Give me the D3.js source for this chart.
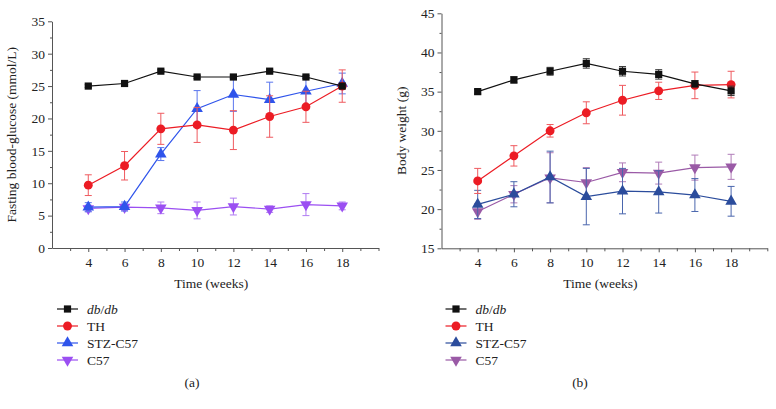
<!DOCTYPE html>
<html><head><meta charset="utf-8">
<script src="https://cdn.jsdelivr.net/npm/d3@7"></script>
<style>
body{margin:0;background:#fff;}
svg text{font-family:"Liberation Serif","DejaVu Serif",serif;}
</style></head>
<body><svg id="c" width="776" height="409"></svg>
<script>
const weeks = [4, 6, 8, 10, 12, 14, 16, 18];
const seriesNames = ["db/db", "TH", "STZ-C57", "C57"];

// (a) Fasting blood-glucose (mmol/L): mean and error
const glucoseDb = [25.0, 25.4, 27.3, 26.4, 26.4, 27.3, 26.4, 25.0];
const glucoseDbErr = [0.2, 0.2, 0.2, 0.2, 0.2, 0.2, 0.2, 0.2];
const glucoseTH = [9.7, 12.7, 18.4, 19.0, 18.2, 20.3, 21.8, 25.0];
const glucoseTHErr = [1.6, 2.2, 2.4, 2.7, 3.0, 3.2, 2.4, 2.5];
const glucoseSTZ = [6.3, 6.4, 14.5, 21.5, 23.7, 22.9, 24.2, 25.4];
const glucoseSTZErr = [0.7, 0.7, 1.0, 2.8, 2.6, 2.7, 2.1, 1.6];
const glucoseC57 = [6.1, 6.3, 6.2, 5.8, 6.4, 6.0, 6.7, 6.5];
const glucoseC57Err = [0.5, 0.5, 0.9, 1.3, 1.3, 0.5, 1.7, 0.6];

// (b) Body weight (g): mean and error
const weightDb = [35.0, 36.5, 37.6, 38.6, 37.6, 37.2, 36.0, 35.1];
const weightDbErr = [0.3, 0.4, 0.5, 0.6, 0.6, 0.6, 0.4, 0.6];
const weightTH = [23.6, 26.8, 30.0, 32.3, 33.9, 35.1, 35.8, 35.9];
const weightTHErr = [1.6, 1.3, 0.8, 1.4, 1.9, 1.1, 1.7, 1.7];
const weightSTZ = [20.6, 21.9, 24.1, 21.6, 22.3, 22.2, 21.8, 21.0];
const weightSTZErr = [1.8, 1.6, 3.3, 3.6, 2.9, 2.7, 2.1, 1.9];
const weightC57 = [19.7, 21.9, 24.0, 23.4, 24.7, 24.6, 25.3, 25.4];
const weightC57Err = [1.0, 1.1, 3.2, 1.9, 1.2, 1.4, 1.6, 1.6];

const yTicksA = [0, 5, 10, 15, 20, 25, 30, 35];
const yTicksB = [15, 20, 25, 30, 35, 40, 45];
const xTicks = [4, 6, 8, 10, 12, 14, 16, 18];

const svg = d3.select("#c");
const symbols = [d3.symbolSquare, d3.symbolCircle, d3.symbolTriangle, "down"];
const FS = "13.5px";

function marker(type, size) {
  if (type === "down") return d3.symbol(d3.symbolTriangle, size)();
  return d3.symbol(type, size)();
}
function msize(t) { return t === d3.symbolCircle ? 62 : (t === d3.symbolSquare ? 52 : 58); }

function panel(cfg) {
  const g = svg.append("g");
  const x = d3.scaleLinear().domain([2, 20]).range([cfg.x0, cfg.x1]);
  const y = d3.scaleLinear().domain(cfg.yDomain).range([cfg.y1, cfg.y0]);
  const axisColor = "#555";

  g.append("g").attr("transform", `translate(${cfg.x0},0)`)
    .call(d3.axisLeft(y).tickValues(cfg.yTicks).tickSize(4).tickSizeOuter(0).tickPadding(3));
  const yMinor = d3.range(cfg.yDomain[0] + 2.5, cfg.yDomain[1], 5);
  g.append("g").attr("transform", `translate(${cfg.x0},0)`)
    .call(d3.axisLeft(y).tickValues(yMinor).tickSize(2).tickFormat(""))
    .select(".domain").remove();
  g.append("g").attr("transform", `translate(0,${cfg.y1})`)
    .call(d3.axisBottom(x).tickValues(xTicks).tickSize(4).tickSizeOuter(0).tickPadding(5));
  const xMinor = [3, 5, 7, 9, 11, 13, 15, 17, 19, 20];
  g.append("g").attr("transform", `translate(0,${cfg.y1})`)
    .call(d3.axisBottom(x).tickValues(xMinor).tickSize(3).tickFormat(""))
    .select(".domain").remove();
  g.selectAll(".domain, .tick line").attr("stroke", axisColor).attr("stroke-width", 1);
  g.selectAll(".tick text").attr("fill", "#222").style("font-size", FS)
    .style("font-family", '"Liberation Serif", serif');

  g.append("text").attr("x", (cfg.x0 + cfg.x1) / 2 - 4).attr("y", cfg.y1 + 40)
    .attr("text-anchor", "middle").attr("fill", "#222").style("font-size", FS).text("Time (weeks)");
  g.append("text").attr("transform", `translate(${cfg.ylabX},${(cfg.y0 + cfg.y1) / 2}) rotate(-90)`)
    .attr("text-anchor", "middle").attr("fill", "#222").style("font-size", FS).text(cfg.yLabel);

  const order = [3, 2, 1, 0];
  order.forEach(i => {
    const s = cfg.series[i];
    const col = cfg.colors[i];
    const ecol = cfg.errColors[i];
    const sg = g.append("g");
    weeks.forEach((w, j) => {
      const cx = x(w);
      const top = y(s.v[j] + s.e[j]), bot = y(s.v[j] - s.e[j]);
      sg.append("line").attr("x1", cx).attr("x2", cx).attr("y1", top).attr("y2", bot)
        .attr("stroke", ecol).attr("stroke-width", 1);
      [top, bot].forEach(yy => sg.append("line").attr("x1", cx - 3.5).attr("x2", cx + 3.5)
        .attr("y1", yy).attr("y2", yy).attr("stroke", ecol).attr("stroke-width", 1));
    });
    const line = d3.line().x((d, j) => x(weeks[j])).y(d => y(d));
    sg.append("path").attr("d", line(s.v)).attr("fill", "none").attr("stroke", col).attr("stroke-width", 1.2);
    weeks.forEach((w, j) => {
      const t = symbols[i];
      sg.append("path").attr("d", marker(t, msize(t)))
        .attr("transform", `translate(${x(w)},${y(s.v[j])})${t === "down" ? " rotate(180)" : ""}`)
        .attr("fill", col);
    });
  });

  seriesNames.forEach((n, i) => {
    const ly = cfg.legY + i * 17;
    const lg = g.append("g");
    lg.append("line").attr("x1", cfg.legX).attr("x2", cfg.legX + 21).attr("y1", ly).attr("y2", ly)
      .attr("stroke", cfg.colors[i]).attr("stroke-width", 1.2);
    const t = symbols[i];
    lg.append("path").attr("d", marker(t, msize(t)))
      .attr("transform", `translate(${cfg.legX + 10.5},${ly})${t === "down" ? " rotate(180)" : ""}`)
      .attr("fill", cfg.colors[i]);
    const tx = lg.append("text").attr("x", cfg.legX + 30).attr("y", ly + 5).attr("fill", "#222")
      .style("font-size", FS);
    if (i === 0) {
      tx.append("tspan").style("font-style", "italic").text("db");
      tx.append("tspan").text("/");
      tx.append("tspan").style("font-style", "italic").text("db");
    } else tx.text(n);
  });

  g.append("text").attr("x", cfg.capX).attr("y", 387).attr("text-anchor", "middle").attr("fill", "#222")
    .style("font-size", FS).text(cfg.caption);
}

panel({
  x0: 52, x1: 378.5, y0: 21.3, y1: 248, yDomain: [0, 35], yTicks: yTicksA,
  yLabel: "Fasting blood-glucose (mmol/L)", ylabX: 16,
  series: [
    { v: glucoseDb, e: glucoseDbErr }, { v: glucoseTH, e: glucoseTHErr },
    { v: glucoseSTZ, e: glucoseSTZErr }, { v: glucoseC57, e: glucoseC57Err }
  ],
  colors: ["#111111", "#ec1c24", "#2f54eb", "#9b4ff2"],
  errColors: ["#333333", "#ef5a5f", "#5a76ee", "#b07cf2"],
  legX: 57, legY: 309, capX: 192, caption: "(a)"
});

panel({
  x0: 441.5, x1: 767.3, y0: 13.3, y1: 248.3, yDomain: [15, 45], yTicks: yTicksB,
  yLabel: "Body weight (g)", ylabX: 406,
  series: [
    { v: weightDb, e: weightDbErr }, { v: weightTH, e: weightTHErr },
    { v: weightSTZ, e: weightSTZErr }, { v: weightC57, e: weightC57Err }
  ],
  colors: ["#111111", "#ec1c24", "#2b4c9c", "#9a5aa6"],
  errColors: ["#333333", "#ef5a5f", "#4a66ad", "#b07cb8"],
  legX: 445.5, legY: 309, capX: 580, caption: "(b)"
});
</script></body></html>
